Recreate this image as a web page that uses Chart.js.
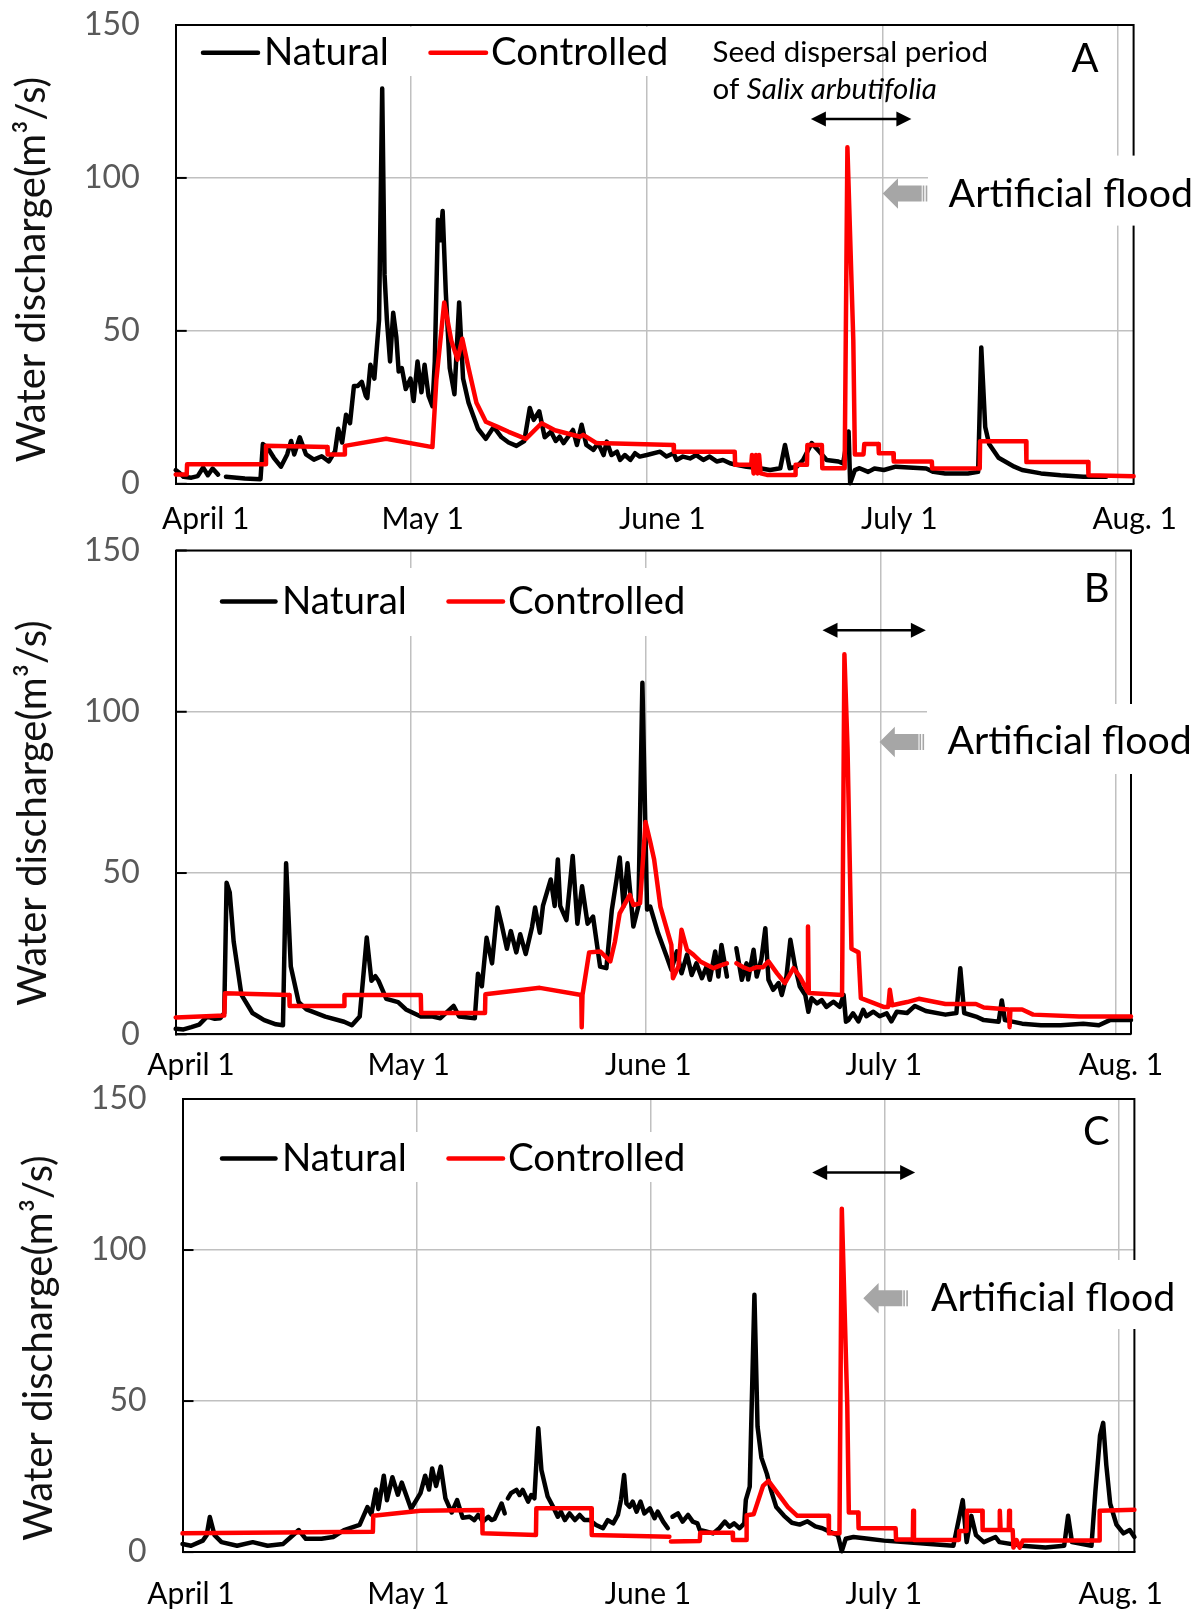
<!DOCTYPE html>
<html><head><meta charset="utf-8">
<script src="https://cdn.jsdelivr.net/npm/chart.js@4.4.1/dist/chart.umd.min.js"></script>
<style>
html,body{margin:0;padding:0;background:#fff;}
body{width:1202px;height:1612px;position:relative;overflow:hidden;}
canvas{position:absolute;left:0;}
</style></head><body>
<canvas id="cA"></canvas><canvas id="cB"></canvas><canvas id="cC"></canvas>
<script>
// ---------------- DATA (day since April 1, discharge m3/s) ----------------
const xTickDays = [0, 30, 60, 90, 120];
const xTickLabels = ['April 1', 'May 1', 'June 1', 'July 1', 'Aug. 1'];
const yTickValues = [0, 50, 100, 150];
const seriesNames = ['Natural', 'Controlled'];

const natA = [[0,4.5],[0.5,3.5],[1,2.3],[2,2.0],[2.8,2.5],[3.5,5.3],[4.1,2.8],[4.7,5.0],[5.4,3.0],[5.9,null],[6.4,2.3],[8.8,1.7],[10.8,1.5],[11.1,13],[11.7,11.8],[12.5,8.5],[13.4,5.6],[14.2,9.6],[14.7,14],[15.1,9.6],[15.8,15.2],[16.6,9.6],[17.6,7.9],[18.6,9],[19.5,7.3],[20.3,10.7],[20.7,18],[21.2,13.5],[21.7,22.6],[22.2,19.8],[22.7,32],[23.2,32],[23.7,33.3],[24.2,28.8],[24.4,28],[24.8,38.9],[25.3,34.4],[25.9,53.6],[26.3,129.2],[26.6,68.3],[26.9,53.6],[27.3,40],[27.7,55.9],[28.1,48],[28.4,36.7],[28.8,37.8],[29.3,31],[29.9,34.4],[30.3,27.1],[30.8,40],[31.3,29.9],[31.7,38.9],[32.2,28.8],[32.7,25.4],[33.0,40],[33.4,86.3],[33.7,79.6],[34.0,89.2],[34.4,62.6],[34.9,37.8],[35.5,29.3],[36.1,59.3],[36.6,34.4],[37.3,26.5],[38.5,18],[39.5,14.7],[40.5,18.6],[41.5,15.2],[42.4,13.5],[43.4,12.4],[44.4,14],[45.1,24.8],[45.6,20.9],[46.3,23.7],[47.0,15.2],[47.8,17],[48.4,14],[48.9,15.4],[49.4,13.3],[50.6,17.6],[51.1,12.7],[51.7,19.3],[52.3,12.7],[53.2,11.1],[53.8,13.3],[54.5,9.4],[54.9,13.8],[55.5,9.4],[56.2,10.5],[56.6,7.8],[57.2,9.4],[57.9,7.8],[58.5,10],[59.1,8.9],[60,9.4],[61.7,10.5],[62.5,8.9],[63.4,10],[63.8,7.8],[64.6,8.9],[65.5,8.3],[66.3,9.4],[67.2,7.8],[68,8.9],[68.9,7.3],[69.7,7.8],[70.6,6.7],[71.4,6.2],[72.7,5.6],[74.4,5.1],[75.7,4.5],[77,5.1],[77.6,12.7],[78.2,5.1],[79.1,5.6],[79.9,7.8],[81,13.3],[82,10.5],[82.9,7.8],[84.4,7.3],[85,6.7],[85.7,17.1],[85.9,0.2],[86.5,4.5],[87.1,5.1],[88.2,3.9],[89,5],[90.2,4.5],[91.7,5.6],[95.6,5],[96.5,3.9],[98,3.4],[100.9,3.4],[102.2,3.9],[102.6,44.6],[103.1,18.6],[103.6,13],[104.8,8.5],[106.8,5.6],[107.8,4.5],[110.2,3.4],[112.7,2.8],[115.6,2.3],[118.5,2.3]];
const ctrlA = [[0,3],[1.4,3],[1.45,6.4],[11.4,6.4],[11.5,12.4],[19.3,12],[19.35,9.6],[21.5,9.6],[21.55,12.4],[26.8,14.7],[32.7,12],[33.2,34],[34.2,59.3],[35.1,46.8],[35.9,40.6],[36.5,47.4],[37.3,37.8],[38.3,26.5],[39.5,20.3],[41,18.6],[42.4,17],[44.6,14.7],[46.6,19.8],[48.3,17.5],[48.9,17.1],[51.5,15.4],[51.9,16],[53.6,13.3],[63.4,12.7],[63.45,10.5],[71.2,10.5],[71.25,6.2],[73.3,6.2],[73.4,9.4],[73.6,3.4],[73.9,9.4],[74.1,3.4],[74.3,9.4],[74.5,3.4],[75.3,2.9],[78.9,2.9],[78.95,6.2],[80.4,6.2],[80.45,12.7],[82.3,12.7],[82.35,5.1],[85.2,5.1],[85.55,110],[86.3,47],[86.5,9.6],[87.6,9.6],[87.7,13],[89.5,13],[89.55,10],[91.4,10],[91.45,7.3],[96.3,7.3],[96.35,5],[102.4,5],[102.45,13.9],[108.3,13.9],[108.35,7.1],[116.2,7.1],[116.25,2.8],[122,2.5]];

const natB = [[0,1.7],[1,1.5],[2,2.2],[3,3],[4,5.5],[5,4.8],[5.7,5],[6.2,6.6],[6.5,47],[6.9,44],[7.4,28.8],[8.4,12.2],[9.8,6.6],[11.3,4.4],[12.8,3.1],[13.7,2.8],[14.1,53],[14.7,21],[15.7,10],[16.7,7.7],[19.1,5.5],[21.5,3.9],[22.5,2.8],[23.5,5.5],[24.4,30],[25,16.6],[25.5,18],[25.9,16.6],[26.9,11],[28.4,10],[29.4,7.7],[31.3,5.5],[32.8,5.5],[33.8,5],[35.5,8.8],[36.2,5.5],[38.2,5],[38.6,18.8],[39.1,14.9],[39.7,29.9],[40.4,22],[41.1,39.3],[41.6,34.3],[42.3,26.5],[42.8,32],[43.5,25.4],[44,31],[44.7,24.9],[45.5,33.2],[45.9,39.3],[46.5,31.5],[46.9,39.8],[47.9,48],[48.4,39.8],[48.8,54.2],[49.1,39.8],[49.9,35.4],[50.7,55.3],[51.3,34.3],[51.9,45.9],[52.6,34.3],[53.3,36.5],[54.2,21],[55.0,20.5],[55.7,38.6],[56.3,48],[56.7,54.8],[57.2,39.8],[57.7,53],[58.45,33.4],[59.1,39.8],[59.6,109],[60.2,38.7],[60.6,39.6],[61.6,31.4],[62.7,24.1],[63.3,20],[64.0,25.7],[64.6,18.9],[65.3,24.7],[65.9,18.4],[66.5,22],[67.2,17.4],[67.8,21],[68.2,16.9],[68.9,25.7],[69.3,17.9],[69.7,27.7],[70.4,17.9],[71,null],[71.6,26.7],[72.3,16.9],[72.9,22],[73.1,17],[73.8,26.2],[74.2,17.9],[74.8,23.3],[75.3,32.9],[75.7,16.9],[76.3,13.8],[77.0,15.9],[77.4,12.2],[78.0,17.9],[78.5,29.3],[79.1,21],[79.7,14.8],[80.4,12.2],[80.8,7],[81.2,11.2],[81.9,9.6],[82.5,10.6],[83.1,8.5],[84.0,10.1],[84.8,8.5],[85.3,12.2],[85.6,3.9],[85.9,4.4],[86.5,6.5],[87.2,4],[87.8,7.6],[88.2,5.6],[89.1,7],[89.9,5.6],[90.8,6.5],[91.4,4],[92.1,7],[93.4,6.6],[94.4,8.8],[95.8,7.2],[98.3,6.1],[99.7,6.6],[100.2,20.5],[100.7,6.6],[102.2,5.5],[103.2,4.4],[105.1,3.9],[105.5,10.5],[105.9,4.4],[108.1,3.3],[110.5,2.8],[113,2.8],[115.9,3.3],[117.9,2.8],[119.3,4.4],[122,4.4]];
const ctrlB = [[0,5.2],[6.2,5.8],[6.3,12.7],[14.5,12.2],[14.55,8.8],[21.5,8.8],[21.55,12.2],[31.3,12.2],[31.35,6.6],[39.5,6.6],[39.55,12.4],[46.5,14.4],[51.8,12.2],[51.85,2.2],[51.95,12.2],[52.8,25.4],[54.2,25.7],[55.5,22.6],[56.1,28.8],[56.7,37.5],[57.4,40.6],[58.0,43.2],[58.45,40.1],[59.3,40.6],[60,65.8],[60.6,59.7],[61.1,54.2],[61.9,39.6],[62.5,34.5],[63.3,27.7],[63.5,17.4],[64.2,21],[64.6,32.4],[65.3,26.2],[66.1,24.7],[67.0,22.6],[67.8,21.6],[68.7,20.5],[69.5,21.3],[70.4,22],[71,null],[71.6,22],[72.5,20.8],[73.3,20],[74.2,20.8],[75.0,20.8],[75.7,22.6],[76.8,18.9],[77.8,15.9],[78.9,20.5],[79.7,17.9],[80.7,13.3],[80.75,33.4],[80.85,12.8],[85.1,12.2],[85.4,117.8],[85.8,88.5],[86.3,26.5],[87.2,25.4],[87.5,11.2],[90.4,8.5],[91.0,8.5],[91.2,13.8],[91.5,9],[93.4,10],[94.9,11],[98.3,9.4],[102.2,9.4],[103.2,8.3],[106.4,7.7],[106.5,2.2],[106.6,7.7],[108.1,7.7],[109.5,6.1],[115.4,5.5],[122,5.5]];

const natC = [[0,2.7],[1.1,2.1],[2.6,3.8],[3.1,5.6],[3.5,11.6],[4.1,5.6],[5,3.3],[7,2.1],[9,3.3],[10.9,2.1],[12.9,2.7],[13.9,5],[14.9,7.3],[15.8,4.4],[17.8,4.4],[19.3,5],[20.7,7.3],[22.7,9],[23.7,14.9],[24.2,12.5],[24.8,20.7],[25.1,14.3],[25.8,25.3],[26.2,17.2],[26.9,24.8],[27.6,19],[28.1,23],[29.3,14.3],[30.5,19.5],[31.1,25.3],[31.6,20.7],[32,27.7],[32.5,21.9],[33.1,28.3],[33.7,17.8],[34.5,13.1],[35.2,17.2],[35.9,11.4],[36.8,11.7],[37.4,10.6],[37.9,12.3],[38.5,10.1],[39.2,11.7],[39.6,10.6],[40.0,11],[40.9,16.1],[41.3,12.8],[41.5,null],[41.7,17.8],[42.1,19.5],[42.8,20.6],[43.2,18.9],[43.6,20.6],[44.3,16.7],[44.7,18.9],[45.1,17.8],[45.6,41],[46.0,27.2],[46.8,18.4],[47.5,15],[48.1,11.7],[48.5,13.4],[49.0,10.6],[49.6,12.8],[50.3,10.6],[50.9,12.3],[51.5,10.6],[52.2,10.6],[53.0,9],[53.9,7.9],[54.5,10.6],[55.2,9.5],[55.8,12.3],[56.2,17.3],[56.6,25.5],[56.9,16.1],[57.3,15],[57.7,16.7],[58.2,13.4],[58.7,16.7],[59.2,12.8],[59.9,14.5],[60.5,11.2],[60.9,13.4],[61.6,10.1],[62.2,7.9],[62.5,null],[62.8,11.7],[63.5,12.8],[64.1,10.1],[64.8,12.3],[65.4,10.1],[66.0,9.5],[66.3,7.3],[67.1,6.8],[68.0,6.2],[68.8,7.9],[69.5,10.1],[70.1,8.4],[70.7,9.5],[71.4,7.9],[72.0,9.5],[72.2,17.3],[72.7,21.7],[73.3,85.2],[73.7,41.6],[74.2,31.2],[74.9,25.9],[75.4,20.7],[76.1,14.9],[77.1,12],[78.1,9.7],[79.1,9.1],[80.1,10.2],[81.1,8.5],[82,7.9],[83,6.7],[84,5.6],[84.5,0.3],[85,4.4],[86,5],[87.9,4.4],[89.9,3.8],[92.9,3.3],[95.8,2.7],[98.8,2.1],[100,17.2],[100.5,3.3],[101.1,12],[101.7,5.6],[102.7,3.3],[104.2,5],[104.7,3.3],[107.6,2.1],[110.6,1.5],[113,2.1],[113.5,12],[114,3.3],[116.5,2.1],[117,20.1],[117.6,38.7],[118,42.8],[118.4,28.8],[118.9,16],[119.7,9.1],[120.6,6.2],[121.4,7.3],[122,5]];
const ctrlC = [[0,6.2],[24.4,6.7],[24.45,12],[30.5,13.7],[38.4,13.9],[38.45,6.2],[45.3,5.7],[45.35,14.5],[52.4,14.5],[52.45,5.7],[62.4,5.1],[62.5,null],[62.6,3.5],[66.3,3.7],[66.35,6.4],[70.5,6.4],[70.55,4],[72.25,4],[72.3,12.2],[73.2,12.5],[74.4,21.9],[75.1,23.6],[76.1,20.1],[77.6,14.9],[78.8,12],[82.8,12],[82.85,6.2],[84.2,6.2],[84.5,113.7],[85.2,48.6],[85.4,13.1],[86.6,13.1],[86.65,7.9],[91.4,7.9],[91.45,4.2],[93.6,4.2],[93.65,13.7],[93.75,4],[99.5,4],[99.55,7],[100.5,7],[100.55,13.7],[102.5,13.7],[102.55,7.3],[104.7,7.3],[104.75,13.7],[104.85,7.3],[105.9,7.3],[105.95,13.7],[106.05,7.3],[106.4,7.3],[106.5,1.5],[106.9,4],[107.3,1.5],[107.7,3.8],[117.5,3.8],[117.55,13.7],[122,14]];

// seed dispersal period (start day, end day) and arrow level (m3/s)
const dispersalA = [80.9, 93.7, 119.3];
const dispersalB = [82.6, 95.8, 125.3];
const dispersalC = [80.7, 93.9, 125.7];

// ---------------- LAYOUT ----------------
const FONT = 'Lato, "Open Sans", sans-serif';
const panels = [
  {id:'cA', letter:'A', nat:natA, ctrl:ctrlA, disp:dispersalA, top:0, h:545,
   plot:{l:175.7, r:1133.6, t:25, b:483.8},
   legend:{lineY:52.7, base:65.4, items:[{x0:203,x1:258,tx:264},{x0:430.5,x1:486,tx:491}], box:{x:190,y:27,w:500,h:49}},
   letterPos:{x:1071.4, base:71.6},
   flood:{tip:882.7, y:193.5, tx:948.6, base:206.6, box:{x:928,y:155.6,w:274,h:70}},
   title:{x:32, y:269.5}, xBase:528.6, xOff:[30,11.5,15.6,16.9,16.9], seed:true},
  {id:'cB', letter:'B', nat:natB, ctrl:ctrlB, disp:dispersalB, top:515, h:570,
   plot:{l:175.7, r:1131, t:550.5, b:1034.3},
   legend:{lineY:601.4, base:613.6, items:[{x0:222,x1:275.5,tx:282},{x0:448.5,x1:503,tx:508}], box:{x:205,y:568,w:495,h:68}},
   letterPos:{x:1083.7, base:602},
   flood:{tip:879.5, y:742, tx:947.4, base:754, box:{x:927,y:704,w:275,h:70}},
   title:{x:33.5, y:813}, xBase:1075.4, xOff:[15.3,-1.9,2.7,3.4,5.5], seed:false},
  {id:'cC', letter:'C', nat:natC, ctrl:ctrlC, disp:dispersalC, top:1065, h:547,
   plot:{l:182.5, r:1134.4, t:1099, b:1552.1},
   legend:{lineY:1158.6, base:1171, items:[{x0:222,x1:275.5,tx:282},{x0:448.5,x1:503,tx:508}], box:{x:205,y:1132,w:495,h:50}},
   letterPos:{x:1083, base:1144.5},
   flood:{tip:863.3, y:1298.3, tx:931, base:1310.6, box:{x:911,y:1260,w:291,h:69}},
   title:{x:39, y:1348}, xBase:1603.8, xOff:[8.5,-8.1,-2.7,-0.8,2], seed:false}
];

const toXY = arr => arr.map(p => ({x:p[0], y:p[1]}));

function decoPlugin(P){
  const T = P.top;
  return {
    id:'deco'+P.letter,
    beforeDatasetsDraw(chart){
      const ctx = chart.ctx, ca = chart.chartArea, ys = chart.scales.y;
      ctx.save();
      ctx.fillStyle = '#fff';
      const lb = P.legend.box;
      ctx.fillRect(lb.x, lb.y - T, lb.w, lb.h);
      ctx.strokeStyle = '#000'; ctx.lineWidth = 2;
      ctx.beginPath(); ctx.moveTo(ca.left, ca.top); ctx.lineTo(ca.right, ca.top); ctx.lineTo(ca.right, ca.bottom); ctx.stroke();
      ys.ticks.forEach(t => {
        const py = ys.getPixelForValue(t.value);
        ctx.beginPath(); ctx.moveTo(ca.left, py); ctx.lineTo(ca.left + 11, py); ctx.stroke();
      });
      const fb = P.flood.box;
      ctx.fillRect(fb.x, fb.y - T, fb.w, fb.h);
      ctx.restore();
    },
    afterDatasetsDraw(chart){
      const ctx = chart.ctx, xs = chart.scales.x, ys = chart.scales.y;
      ctx.save();
      // legend
      ctx.font = '38.5px ' + FONT; ctx.textBaseline = 'alphabetic'; ctx.textAlign = 'left';
      chart.data.datasets.forEach((ds, i) => {
        const it = P.legend.items[i];
        ctx.strokeStyle = ds.borderColor; ctx.lineWidth = 4.5; ctx.lineCap = 'round';
        ctx.beginPath(); ctx.moveTo(it.x0, P.legend.lineY - T); ctx.lineTo(it.x1, P.legend.lineY - T); ctx.stroke();
        ctx.fillStyle = '#000';
        ctx.fillText(ds.label, it.tx, P.legend.base - T);
      });
      // panel letter
      ctx.font = '40px ' + FONT; ctx.fillStyle = '#000';
      ctx.fillText(P.letter, P.letterPos.x, P.letterPos.base - T);
      // seed dispersal text
      if (P.seed){
        ctx.font = '29.5px ' + FONT;
        ctx.fillText('Seed dispersal period', 712.5, 62 - T);
        ctx.fillText('of ', 712.5, 99 - T);
        const w = ctx.measureText('of ').width;
        ctx.font = 'italic 29.5px ' + FONT;
        ctx.fillText('Salix arbutifolia', 712.5 + w, 99 - T);
      }
      // dispersal double arrow
      const x0 = xs.getPixelForValue(P.disp[0]), x1 = xs.getPixelForValue(P.disp[1]), ay = ys.getPixelForValue(P.disp[2]);
      ctx.strokeStyle = '#000'; ctx.fillStyle = '#000'; ctx.lineWidth = 2.5; ctx.lineCap = 'butt';
      ctx.beginPath(); ctx.moveTo(x0 + 10, ay); ctx.lineTo(x1 - 10, ay); ctx.stroke();
      ctx.beginPath(); ctx.moveTo(x0, ay); ctx.lineTo(x0 + 15, ay - 7.5); ctx.lineTo(x0 + 15, ay + 7.5); ctx.closePath(); ctx.fill();
      ctx.beginPath(); ctx.moveTo(x1, ay); ctx.lineTo(x1 - 15, ay - 7.5); ctx.lineTo(x1 - 15, ay + 7.5); ctx.closePath(); ctx.fill();
      // grey block arrow
      const F = P.flood, fy = F.y - T, tx = F.tip;
      ctx.fillStyle = '#a6a6a6';
      ctx.beginPath();
      ctx.moveTo(tx, fy); ctx.lineTo(tx + 15.3, fy - 15.3); ctx.lineTo(tx + 15.3, fy - 8);
      ctx.lineTo(tx + 39, fy - 8); ctx.lineTo(tx + 39, fy + 8); ctx.lineTo(tx + 15.3, fy + 8);
      ctx.lineTo(tx + 15.3, fy + 15.3); ctx.closePath(); ctx.fill();
      ctx.fillRect(tx + 40, fy - 8, 1.6, 16);
      ctx.fillRect(tx + 43, fy - 8, 1.6, 16);
      // Artificial flood
      ctx.fillStyle = '#000'; ctx.font = '39.3px ' + FONT;
      ctx.fillText('Artificial flood', F.tx, F.base - T);
      // y title
      ctx.save();
      ctx.translate(P.title.x, P.title.y - T); ctx.rotate(-Math.PI / 2);
      ctx.font = '40px ' + FONT; ctx.textAlign = 'center'; ctx.textBaseline = 'middle'; ctx.fillStyle = '#111';
      ctx.fillText('Water discharge(m\u00B3/s)', 0, 0);
      ctx.restore();
      // x labels
      ctx.font = '30px ' + FONT; ctx.textAlign = 'center'; ctx.textBaseline = 'alphabetic'; ctx.fillStyle = '#000';
      xTickDays.forEach((d, i) => {
        ctx.fillText(xTickLabels[i], xs.getPixelForValue(d) + P.xOff[i], P.xBase - T);
      });
      ctx.restore();
    }
  };
}

panels.forEach(P => {
  const cv = document.getElementById(P.id);
  cv.width = 1202; cv.height = P.h; cv.style.top = P.top + 'px';
  cv.style.width = '1202px'; cv.style.height = P.h + 'px';
  const lineDs = (label, data, color, order) => ({
    label, data: toXY(data), borderColor: color, backgroundColor: color,
    borderWidth: 4.5, pointRadius: 0, pointHoverRadius: 0, tension: 0,
    spanGaps: false, clip: false, borderJoinStyle: 'round', borderCapStyle: 'round', order
  });
  new Chart(cv, {
    type: 'line',
    data: { datasets: [ lineDs(seriesNames[0], P.nat, '#000000', 1), lineDs(seriesNames[1], P.ctrl, '#ff0000', 0) ] },
    options: {
      responsive: false, animation: false, devicePixelRatio: 1,
      layout: { padding: { left: 0, top: P.plot.t - P.top, right: 1202 - P.plot.r, bottom: 0 } },
      plugins: { legend: { display: false }, tooltip: { enabled: false } },
      scales: {
        x: {
          type: 'linear', min: 0, max: 122,
          afterBuildTicks: s => { s.ticks = xTickDays.map(v => ({ value: v })); },
          afterFit: s => { s.height = P.top + P.h - P.plot.b; s.paddingLeft = 0; s.paddingRight = 0; },
          ticks: { display: false },
          grid: { color: '#c0c0c0', lineWidth: 1.5, drawTicks: false },
          border: { display: true, color: '#000', width: 2 }
        },
        y: {
          type: 'linear', min: 0, max: 150,
          afterBuildTicks: s => { s.ticks = yTickValues.map(v => ({ value: v })); },
          afterFit: s => { s.width = P.plot.l; s.paddingTop = 0; s.paddingBottom = 0; },
          ticks: { padding: 36, color: '#595959', font: { family: FONT, size: 32 } },
          grid: { color: '#c0c0c0', lineWidth: 1.5, drawTicks: false },
          border: { display: true, color: '#000', width: 2 }
        }
      }
    },
    plugins: [decoPlugin(P)]
  });
});
</script>
</body></html>
